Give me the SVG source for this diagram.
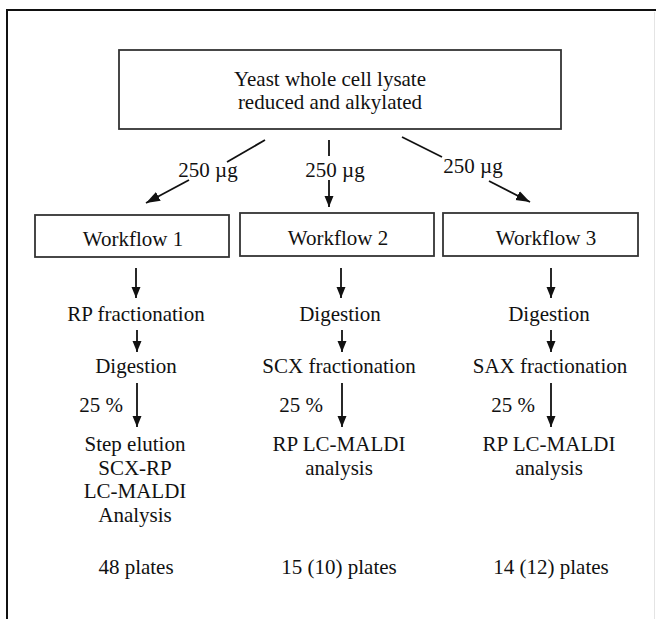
<svg xmlns="http://www.w3.org/2000/svg" width="656" height="619" viewBox="0 0 656 619">
  <style>
    .box { fill: #fff; stroke: #333; stroke-width: 1.8; }
    .t { font-family: "Liberation Serif", "Times New Roman", serif; font-size: 21px; fill: #111; text-anchor: middle; }
    .tr { font-family: "Liberation Serif", "Times New Roman", serif; font-size: 21px; fill: #111; text-anchor: end; }
    .c { stroke: #111; stroke-width: 1.8; fill: none; }
    .frame { stroke: #111; stroke-width: 2; fill: none; }
  </style>
  <defs>
    <marker id="ah" markerUnits="userSpaceOnUse" markerWidth="12" markerHeight="10" viewBox="0 0 12 10" refX="11" refY="5" orient="auto">
      <path d="M0,0.5 L11,5 L0,9.5 Z" fill="#111"/>
    </marker>
    <marker id="ahd" markerUnits="userSpaceOnUse" markerWidth="15" markerHeight="11" viewBox="0 0 15 11" refX="14" refY="5.5" orient="auto">
      <path d="M0,0.5 L14,5.5 L0,10.5 Z" fill="#111"/>
    </marker>
  </defs>
  <rect width="656" height="619" fill="#fff"/>
  <g id="frame">
    <line class="frame" x1="6" y1="10" x2="656" y2="10"/>
    <line class="frame" x1="7" y1="9" x2="7" y2="619"/>
    <line x1="654.5" y1="12" x2="654.5" y2="619" stroke="#e4e4e4" stroke-width="1"/>
  </g>
  <g id="lysate">
    <rect class="box" x="119" y="50" width="442" height="79"/>
    <text class="t" x="330" y="86">Yeast whole cell lysate</text>
    <text class="t" x="330" y="109">reduced and alkylated</text>
  </g>
  <g id="workflow1">
    <rect class="box" x="35" y="215" width="194" height="42"/>
    <text class="t" x="133" y="246">Workflow 1</text>
  </g>
  <g id="workflow2">
    <rect class="box" x="240" y="213" width="194" height="43"/>
    <text class="t" x="338" y="245">Workflow 2</text>
  </g>
  <g id="workflow3">
    <rect class="box" x="443" y="213" width="195" height="43"/>
    <text class="t" x="546" y="245">Workflow 3</text>
  </g>
  <g id="col1">
    <text class="t" x="136" y="321">RP fractionation</text>
    <text class="t" x="136" y="373">Digestion</text>
    <text class="tr" x="123" y="412">25 %</text>
    <text class="t" x="135" y="451">Step elution</text>
    <text class="t" x="135" y="475">SCX-RP</text>
    <text class="t" x="135" y="498">LC-MALDI</text>
    <text class="t" x="135" y="522">Analysis</text>
    <text class="t" x="136" y="574">48 plates</text>
  </g>
  <g id="col2">
    <text class="t" x="340" y="321">Digestion</text>
    <text class="t" x="339" y="373">SCX fractionation</text>
    <text class="tr" x="323" y="412">25 %</text>
    <text class="t" x="339" y="451">RP LC-MALDI</text>
    <text class="t" x="339" y="475">analysis</text>
    <text class="t" x="339" y="574">15 (10) plates</text>
  </g>
  <g id="col3">
    <text class="t" x="549" y="321">Digestion</text>
    <text class="t" x="550" y="373">SAX fractionation</text>
    <text class="tr" x="535" y="412">25 %</text>
    <text class="t" x="549" y="451">RP LC-MALDI</text>
    <text class="t" x="549" y="475">analysis</text>
    <text class="t" x="551" y="574">14 (12) plates</text>
  </g>
  <g id="connectors">
    <line class="c" x1="265" y1="140" x2="227" y2="162"/>
    <line class="c" x1="189" y1="180" x2="146" y2="203" marker-end="url(#ahd)"/>
    <text class="t" x="208" y="177">250 µg</text>
    <line class="c" x1="329" y1="140" x2="329" y2="156"/>
    <line class="c" x1="329" y1="180" x2="329" y2="207" marker-end="url(#ah)"/>
    <text class="t" x="335" y="177">250 µg</text>
    <line class="c" x1="402" y1="137" x2="442" y2="157"/>
    <line class="c" x1="489" y1="181" x2="530" y2="202" marker-end="url(#ahd)"/>
    <text class="t" x="473" y="173">250 µg</text>
    <line class="c" x1="136" y1="268" x2="136" y2="298" marker-end="url(#ah)"/>
    <line class="c" x1="341" y1="268" x2="341" y2="298" marker-end="url(#ah)"/>
    <line class="c" x1="551" y1="268" x2="551" y2="298" marker-end="url(#ah)"/>
    <line class="c" x1="137" y1="330" x2="137" y2="352" marker-end="url(#ah)"/>
    <line class="c" x1="342" y1="330" x2="342" y2="352" marker-end="url(#ah)"/>
    <line class="c" x1="551" y1="330" x2="551" y2="352" marker-end="url(#ah)"/>
    <line class="c" x1="137" y1="383" x2="137" y2="427" marker-end="url(#ah)"/>
    <line class="c" x1="342" y1="383" x2="342" y2="427" marker-end="url(#ah)"/>
    <line class="c" x1="551" y1="383" x2="551" y2="427" marker-end="url(#ah)"/>
  </g>
</svg>
